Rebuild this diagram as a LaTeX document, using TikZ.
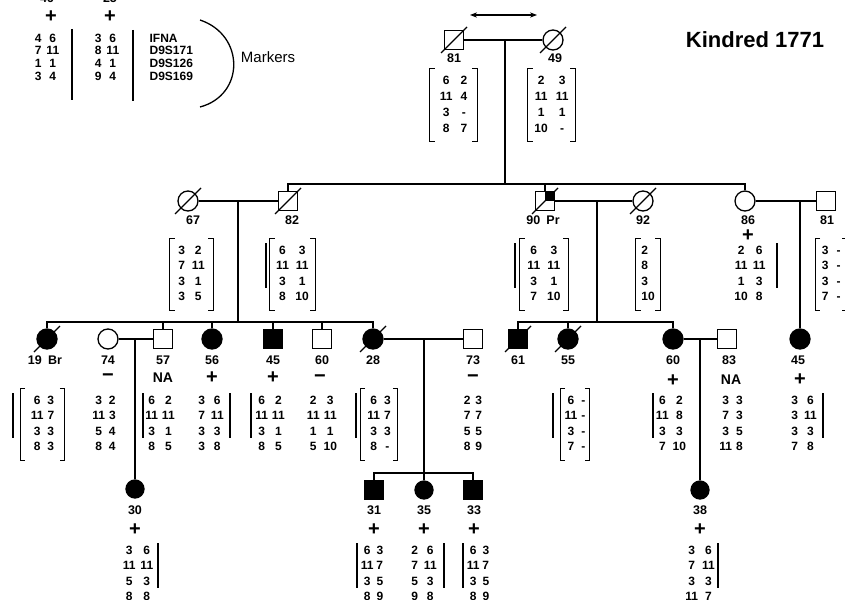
\documentclass[tikz,border=0pt]{standalone}
\usepackage{fontspec}
\setmainfont{Liberation Sans}
\usetikzlibrary{arrows.meta,positioning,calc}

\newcommand{\haplo}[2][4pt]{\begin{tabular}[t]{@{}c@{\hspace{#1}}c@{}}#2\end{tabular}}
\newcommand{\hapbrackets}[1]{%
  \draw[brk] ([xshift=5pt]#1.north west) -- (#1.north west) -- (#1.south west) -- ([xshift=5pt]#1.south west);
  \draw[brk] ([xshift=-5pt]#1.north east) -- (#1.north east) -- (#1.south east) -- ([xshift=-5pt]#1.south east);}

\begin{document}
\begin{tikzpicture}[x=1pt, y=-1pt, line width=1.3pt,
    male/.style={draw, rectangle, minimum size=19pt, inner sep=0pt},
    female/.style={draw, circle, minimum size=20pt, inner sep=0pt},
    aff/.style={fill=black},
    lbl/.style={font=\fontsize{12.5}{14}\selectfont\bfseries, inner sep=1pt},
    na/.style={font=\fontsize{14}{16}\selectfont\bfseries, inner sep=1pt},
    sign/.style={font=\fontsize{20}{20}\selectfont\bfseries, inner sep=0pt},
    hap/.style={anchor=base, font=\fontsize{12}{15.5}\selectfont\bfseries, inner ysep=4.5pt, inner xsep=#1},
    hap/.default=4pt,
    legendhap/.style={anchor=base, font=\fontsize{12}{12.7}\selectfont\bfseries, inner sep=0pt},
    brk/.style={line width=1pt},
    dbar/.style={line width=2.2pt}
]
    \useasboundingbox (0,0) rectangle (845,599);

    % legend
    \node[lbl, anchor=base] (t46) at (47,3) {46};
    \node[lbl, anchor=base] (t25) at (110,3) {25};
    \node[sign] (p46) at (51,17) {+};
    \node[sign] (p25) at (110,17) {+};
    \node[legendhap] (L1) at (47,42.3) {\haplo[5pt]{4&6\\7&11\\1&1\\3&4}};
    \node[legendhap] (L2) at (107,42.3) {\haplo[5pt]{3&6\\8&11\\4&1\\9&4}};
    \draw[dbar] (72,29) -- (72,100);
    \draw[dbar] (133,30) -- (133,101);
    \node[legendhap, anchor=base west] (mk) at (149,42.3) {\begin{tabular}[t]{@{}l@{}}IFNA\\D9S171\\D9S126\\D9S169\end{tabular}};
    \draw (200,20) .. controls (245,35) and (245,95) .. (200,107);
    \node[font=\fontsize{15}{17}\selectfont, anchor=west] (mtitle) at (237,57) {Markers};
    \node[font=\fontsize{22}{24}\selectfont\bfseries] (kin) at (755,40) {Kindred 1771};

    % generation I
    \coordinate (aL) at (470,15);
    \coordinate (aR) at (537,15);
    \draw[{Stealth[length=7pt]}-{Stealth[length=7pt]}] (aL) -- (aR);
    \node[male] (i81) at (454,40) {};
    \node[female] (i49) at (553,40) {};
    \node[lbl] (t81) at (454,58) {81};
    \node[lbl] (t49) at (555,58) {49};
    \node[hap=9.5pt, font=\fontsize{12}{16}\selectfont\bfseries, inner ysep=3.5pt] (h81) at (453.5,84.3) {\haplo[8pt]{6&2\\11&4\\3&-\\8&7}};
    \node[hap=6.2pt, font=\fontsize{12}{16}\selectfont\bfseries, inner ysep=3.5pt] (h49) at (551.5,84.3) {\haplo[8pt]{2&3\\11&11\\1&1\\10&-}};
    \hapbrackets{h81}
    \hapbrackets{h49}

    % generation II
    \node[female] (i67) at (188,201) {};
    \node[male] (i82) at (288,201) {};
    \node[male] (i90) at (545,201) {};
    \node[female] (i92) at (643,201) {};
    \node[female] (i86) at (745,201) {};
    \node[male] (i81r) at (826,201) {};
    \fill (i90.center) rectangle (i90.north east);
    \node[lbl] (t67) at (193,220) {67};
    \node[lbl] (t82) at (292,220) {82};
    \node[lbl] (t90) at (543,220) {90\enspace Pr};
    \node[lbl] (t92) at (643,220) {92};
    \node[lbl] (t86) at (748,220) {86};
    \node[lbl] (t81r) at (827,220) {81};
    \node[sign] (p86) at (748,236) {+};
    \node[hap=8pt] (h67) at (191.5,254.3) {\haplo[7pt]{3&2\\7&11\\3&1\\3&5}};
    \node[hap=6pt] (h82) at (292.5,254.3) {\haplo[6.5pt]{6&3\\11&11\\3&1\\8&10}};
    \node[hap=7.2pt] (h90) at (544,254.3) {\haplo[7pt]{6&3\\11&11\\3&1\\7&10}};
    \node[hap=5pt] (h92) at (648,254.3) {\begin{tabular}[t]{@{}l@{}}2\\8\\3\\10\end{tabular}\hspace{26pt}};
    \node[hap] (h86) at (750,254.3) {\haplo[5pt]{2&6\\11&11\\1&3\\10&8}};
    \node[hap=6pt] (h81r) at (831.2,254.3) {\haplo[8pt]{3&-\\3&-\\3&-\\7&-}};
    \foreach \h in {h67,h82,h90,h92,h81r} \hapbrackets{\h}
    \draw[dbar] (266,243) -- (266,288);
    \draw[dbar] (515,243) -- (515,288);
    \draw[dbar] (777,243) -- (777,288);

    % generation III
    \node[female, aff] (i19) at (47,339) {};
    \node[female] (i74) at (108,339) {};
    \node[male] (i57) at (163,339) {};
    \node[female, aff] (i56) at (212,339) {};
    \node[male, aff] (i45) at (273,339) {};
    \node[male] (i60) at (322,339) {};
    \node[female, aff] (i28) at (373,339) {};
    \node[male] (i73) at (473,339) {};
    \node[male, aff] (i61) at (518,339) {};
    \node[female, aff] (i55) at (568,339) {};
    \node[female, aff] (i60r) at (673,339) {};
    \node[male] (i83) at (727,339) {};
    \node[female, aff] (i45r) at (800,339) {};

    \node[lbl] (t19) at (45,360) {19\enspace Br};
    \node[lbl] (t74) at (108,360) {74};
    \node[lbl] (t57) at (163,360) {57};
    \node[lbl] (t56) at (212,360) {56};
    \node[lbl] (t45) at (273,360) {45};
    \node[lbl] (t60) at (322,360) {60};
    \node[lbl] (t28) at (373,360) {28};
    \node[lbl] (t73) at (473,360) {73};
    \node[lbl] (t61) at (518,360) {61};
    \node[lbl] (t55) at (568,360) {55};
    \node[lbl] (t60r) at (673,360) {60};
    \node[lbl] (t83) at (729,360) {83};
    \node[lbl] (t45r) at (798,360) {45};

    \node[sign] (n74) at (108,378) {−};
    \node[na] (a57) at (163,378) {NA};
    \node[sign] (p56) at (212,378) {+};
    \node[sign] (p45) at (273,378) {+};
    \node[sign] (n60) at (320,378.5) {−};
    \node[sign] (n73) at (473,378.5) {−};
    \node[sign] (p60r) at (673,381) {+};
    \node[na] (a83) at (731,380) {NA};
    \node[sign] (p45r) at (800,380) {+};

    \node[hap=10pt] (h19) at (42.5,404.3) {\haplo{6&3\\11&7\\3&3\\8&3}};
    \node[hap] (h74) at (104,404.3) {\haplo{3&2\\11&3\\5&4\\8&4}};
    \node[hap] (h57) at (160,404.3) {\haplo{6&2\\11&11\\3&1\\8&5}};
    \node[hap] (h56) at (211,404.3) {\haplo[6pt]{3&6\\7&11\\3&3\\3&8}};
    \node[hap] (h45) at (270,404.3) {\haplo{6&2\\11&11\\3&1\\8&5}};
    \node[hap] (h60) at (322,404.3) {\haplo{2&3\\11&11\\1&1\\5&10}};
    \node[hap=6.5pt] (h28) at (379,404.3) {\haplo{6&3\\11&7\\3&3\\8&-}};
    \node[hap] (h73) at (473,404.3) {\haplo[5pt]{2&3\\7&7\\5&5\\8&9}};
    \node[hap=3.9pt] (h55) at (575,404.3) {\haplo{6&-\\11&-\\3&-\\7&-}};
    \node[hap] (h60r) at (671,404.3) {\haplo{6&2\\11&8\\3&3\\7&10}};
    \node[hap] (h83) at (731,404.3) {\haplo{3&3\\7&3\\3&5\\11&8}};
    \node[hap] (h45r) at (804,404.3) {\haplo[6pt]{3&6\\3&11\\3&3\\7&8}};
    \foreach \h in {h19,h28,h55} \hapbrackets{\h}
    \foreach \x in {13,143,230,251,356,553,653,823}
        \draw[dbar] (\x,393) -- (\x,438);

    % generation IV
    \node[female, aff, minimum size=18pt] (i30) at (135,489) {};
    \node[male, aff] (i31) at (374,490) {};
    \node[female, aff, minimum size=18pt] (i35) at (424,490) {};
    \node[male, aff] (i33) at (473,490) {};
    \node[female, aff, minimum size=18pt] (i38) at (700,490) {};
    \node[lbl] (t30) at (135,510) {30};
    \node[lbl] (t31) at (374,510) {31};
    \node[lbl] (t35) at (424,510) {35};
    \node[lbl] (t33) at (474,510) {33};
    \node[lbl] (t38) at (700,510) {38};
    \foreach \x/\n in {135/p30, 374/p31, 424/p35, 474/p33, 700/p38}
        \node[sign] (\n) at (\x,530) {+};
    \node[hap] (h30) at (138,554.3) {\haplo[5pt]{3&6\\11&11\\5&3\\8&8}};
    \node[hap] (h31) at (372,554.3) {\haplo[3pt]{6&3\\11&7\\3&5\\8&9}};
    \node[hap] (h35) at (424,554.3) {\haplo[6pt]{2&6\\7&11\\5&3\\9&8}};
    \node[hap] (h33) at (478,554.3) {\haplo[3pt]{6&3\\11&7\\3&5\\8&9}};
    \node[hap] (h38) at (700,554.3) {\haplo{3&6\\7&11\\3&3\\11&7}};
    \foreach \x in {158,357,444,463,718}
        \draw[dbar] (\x,543) -- (\x,588);

    % deceased
    \foreach \n in {i81,i49,i67,i82,i90,i92,i19,i28,i61,i55}
        \draw ($(\n.center)+(-13,13)$) -- ($(\n.center)+(13,-13)$);

    % lines of descent
    \draw (i81) -- (i49);
    \coordinate (m1) at (505,40);
    \coordinate (s1) at (505,184);
    \draw (m1) -- (s1);
    \draw (i82.north) -- (i82.north |- s1) -- (i86.north |- s1) -- (i86.north);
    \draw (i90.north) -- (i90.north |- s1);

    \draw (i67) -- (i82);
    \coordinate (m2) at (238,201);
    \coordinate (s2) at (238,322);
    \draw (m2) -- (s2);
    \draw (i19.north) -- (i19.north |- s2) -- (i28.north |- s2) -- (i28.north);
    \foreach \n in {i57,i56,i45,i60}
        \draw (\n.north) -- (\n.north |- s2);

    \draw (i90) -- (i92);
    \coordinate (m3) at (597,201);
    \coordinate (s3) at (597,322);
    \draw (m3) -- (s3);
    \draw (i61.north) -- (i61.north |- s3) -- (i60r.north |- s3) -- (i60r.north);
    \draw (i55.north) -- (i55.north |- s3);

    \draw (i86) -- (i81r);
    \coordinate (m4) at (800,201);
    \draw (m4) -- (i45r);

    \draw (i74) -- (i57);
    \coordinate (m5) at (135,339);
    \draw (m5) -- (i30);

    \draw (i28) -- (i73);
    \coordinate (m6) at (424,339);
    \coordinate (s6) at (424,473);
    \draw (m6) -- (i35);
    \draw (i31.north) -- (i31.north |- s6) -- (i33.north |- s6) -- (i33.north);

    \draw (i60r) -- (i83);
    \coordinate (m7) at (700,339);
    \draw (m7) -- (i38);
\end{tikzpicture}
\end{document}
